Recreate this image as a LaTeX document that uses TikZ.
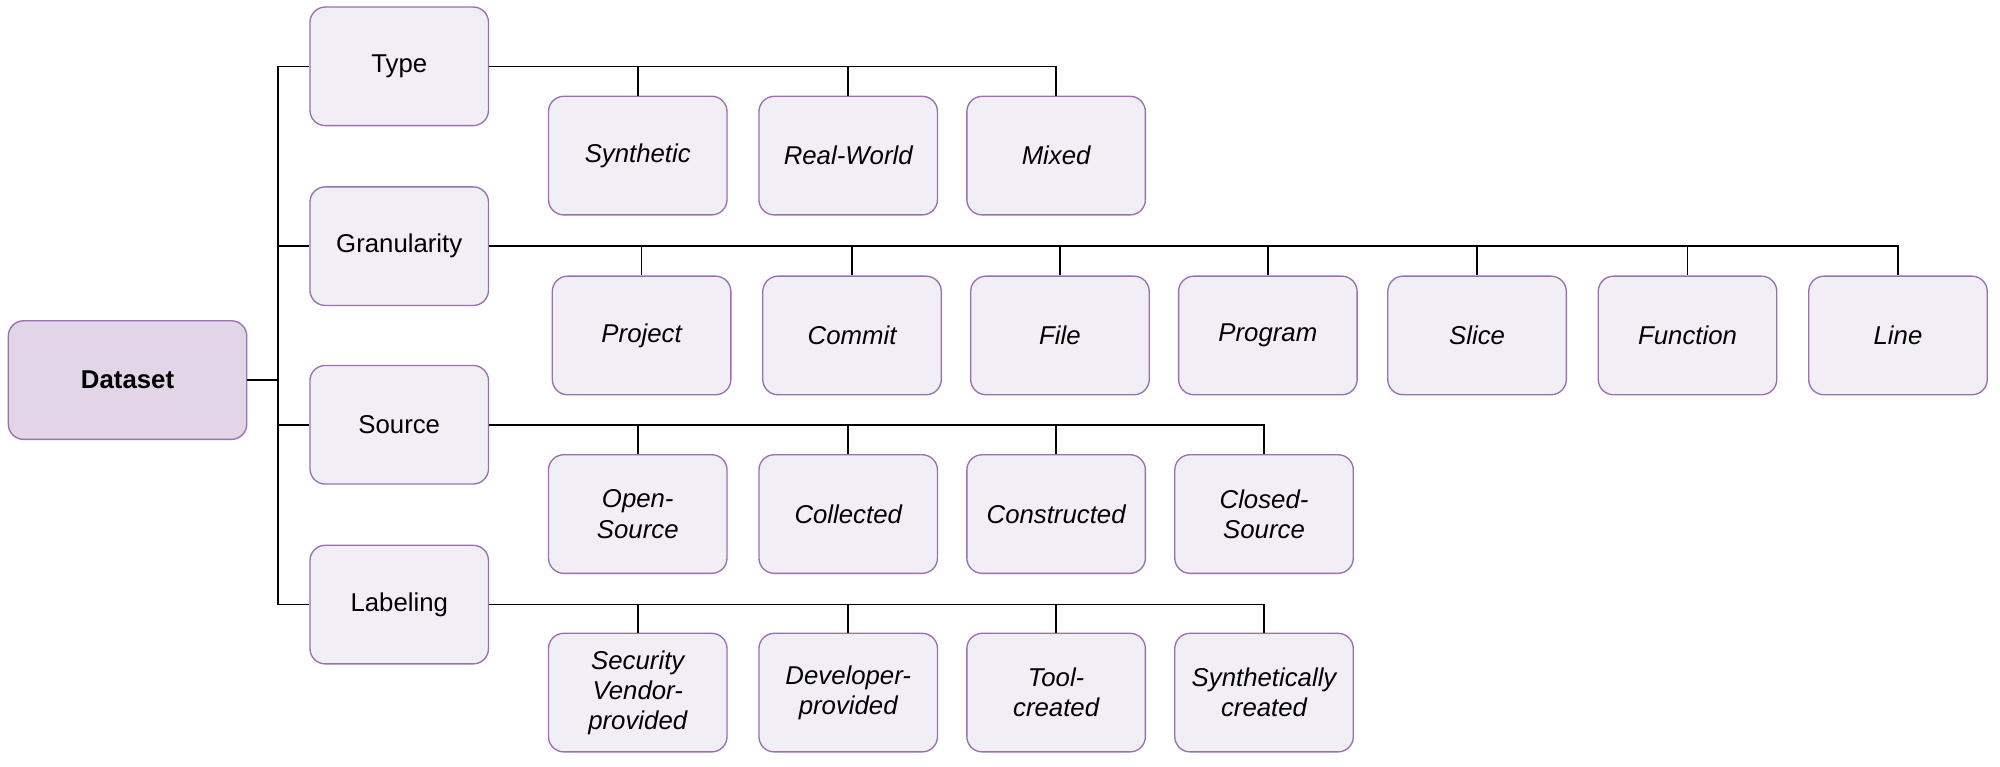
\documentclass[tikz,border=0pt]{standalone}
\usepackage{fontspec}
\setmainfont{Liberation Sans}
\begin{document}
\definecolor{bfill}{HTML}{F2EEF6}
\definecolor{bdraw}{HTML}{9A70AE}
\definecolor{rfill}{HTML}{E2D5E8}
\begin{tikzpicture}[x=0.02cm,y=-0.02cm,
  box/.style={draw=bdraw,fill=bfill,rounded corners=0.24cm,minimum width=2.8cm,minimum height=1.86cm,align=center,font=\fontsize{11.5}{13.5}\selectfont,line width=0.6pt},
  leaf/.style={box,font=\fontsize{11.5}{13.5}\selectfont\itshape},
  root/.style={box,fill=rfill,minimum width=3.74cm,font=\fontsize{11.5}{13.5}\selectfont\bfseries},
  con/.style={line width=0.7pt,black}]
\useasboundingbox (0,0) rectangle (1568,601);
\node[root] (ds) at (100,298) {Dataset};
\node[box] (type) at (313,52) {Type};
\node[box] (gran) at (313,193) {Granularity};
\node[box] (src) at (313,333) {Source};
\node[box] (lab) at (313,474) {Labeling};
\coordinate (t1) at (218,52);
\coordinate (t4) at (218,474);
\coordinate (tm) at (218,298);
\draw[con] (t1) -- (type.west);
\draw[con] (t1) -- (t4) -- (lab.west);
\draw[con] (ds.east) -- (tm);
\draw[con] (tm|-gran.west) -- (gran.west);
\draw[con] (tm|-src.west) -- (src.west);
\node[leaf] (a1) at (500,122) {Synthetic};
\node[leaf] (a2) at (665,122) {Real-World};
\node[leaf] (a3) at (828,122) {Mixed};
\node[leaf] (b1) at (503,263) {Project};
\node[leaf] (b2) at (668,263) {Commit};
\node[leaf] (b3) at (831,263) {File};
\node[leaf] (b4) at (994,263) {Program};
\node[leaf] (b5) at (1158,263) {Slice};
\node[leaf] (b6) at (1323,263) {Function};
\node[leaf] (b7) at (1488,263) {Line};
\node[leaf] (c1) at (500,403) {Open-\\Source};
\node[leaf] (c2) at (665,403) {Collected};
\node[leaf] (c3) at (828,403) {Constructed};
\node[leaf] (c4) at (991,403) {Closed-\\Source};
\node[leaf] (d1) at (500,543) {Security\\Vendor-\\provided};
\node[leaf] (d2) at (665,543) {Developer-\\provided};
\node[leaf] (d3) at (828,543) {Tool-\\created};
\node[leaf] (d4) at (991,543) {Synthetically\\created};
\draw[con] (type.east) -| (a3.north);
\foreach \n in {a1,a2} \draw[con] (\n.north) -- (\n.north|-type.east);
\draw[con] (gran.east) -| (b7.north);
\foreach \n in {b1,b2,b3,b4,b5,b6} \draw[con] (\n.north) -- (\n.north|-gran.east);
\draw[con] (src.east) -| (c4.north);
\foreach \n in {c1,c2,c3} \draw[con] (\n.north) -- (\n.north|-src.east);
\draw[con] (lab.east) -| (d4.north);
\foreach \n in {d1,d2,d3} \draw[con] (\n.north) -- (\n.north|-lab.east);
\end{tikzpicture}
\end{document}
